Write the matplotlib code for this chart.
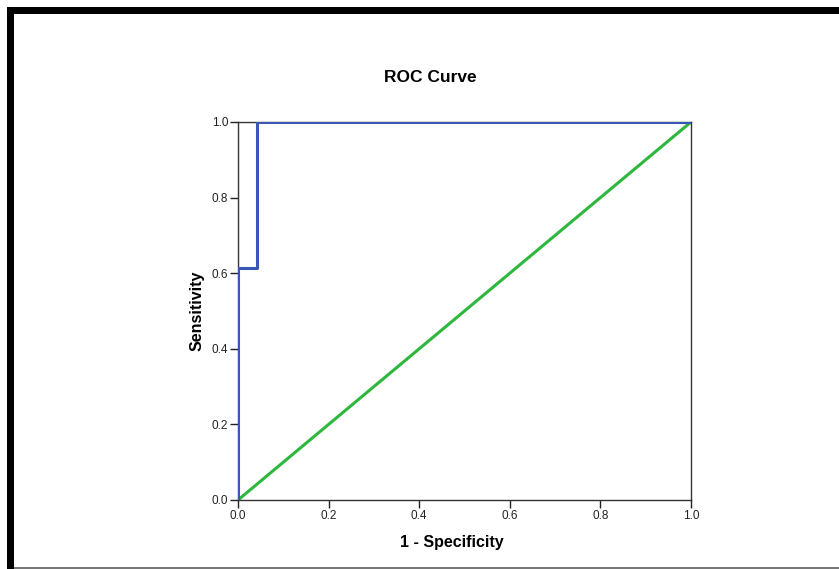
import matplotlib
matplotlib.use('Agg')
import matplotlib.pyplot as plt
from matplotlib.patches import Rectangle

plt.rcParams['font.family'] = ['Liberation Sans', 'DejaVu Sans']

# ROC curves (1 - specificity, sensitivity)
fpr_ref = [0.0, 0.0, 1.0]
tpr_ref = [0.0, 1.0, 1.0]
fpr_test = [0.0, 0.0, 0.042, 0.042, 1.0]
tpr_test = [0.0, 0.615, 0.615, 1.0, 1.0]
diag = [0.0, 1.0]
ticks = [0.0, 0.2, 0.4, 0.6, 0.8, 1.0]

fig = plt.figure(figsize=(8.39, 5.69), dpi=100)

# frame around the picture
fig.patches.append(Rectangle((7/839, 0), 7/839, 1 - 7/569, transform=fig.transFigure,
                             facecolor='black', edgecolor='none'))
fig.patches.append(Rectangle((7/839, 1 - 14/569), 1, 7/569, transform=fig.transFigure,
                             facecolor='black', edgecolor='none'))
fig.patches.append(Rectangle((14/839, 0), 1, 2/569, transform=fig.transFigure,
                             facecolor='#777777', edgecolor='none'))

ax = fig.add_axes([238/839, 1 - 500/569, 453/839, 378/569])

ax.plot(fpr_ref, tpr_ref, color='#3a3a3a', lw=1.5, zorder=3)
ax.plot(fpr_test, tpr_test, color='#3b56b5', lw=2.2, zorder=4)
ax.plot(diag, diag, color='#2db83d', lw=2.2, zorder=2)

ax.set_xlim(0, 1)
ax.set_ylim(0, 1)
ax.set_xticks(ticks)
ax.set_yticks(ticks)
ax.set_xticklabels(['%.1f' % t for t in ticks])
ax.set_yticklabels(['%.1f' % t for t in ticks])
ax.tick_params(direction='out', length=6, width=1, labelsize=8.5, colors='#222222', pad=1)
for s in ax.spines.values():
    s.set_color('#333333')
    s.set_linewidth(1)

ax.set_xlabel('1 - Specificity', fontsize=11.5, fontweight='bold')
ax.xaxis.set_label_coords(0.471, -0.092)
ax.set_ylabel('Sensitivity', fontsize=11.5, fontweight='bold')
ax.yaxis.set_label_coords(-0.075, 0.5)
ax.set_title('ROC Curve', fontsize=12.5, fontweight='bold', pad=29, x=0.424)

fig.savefig('out.png', dpi=100)
